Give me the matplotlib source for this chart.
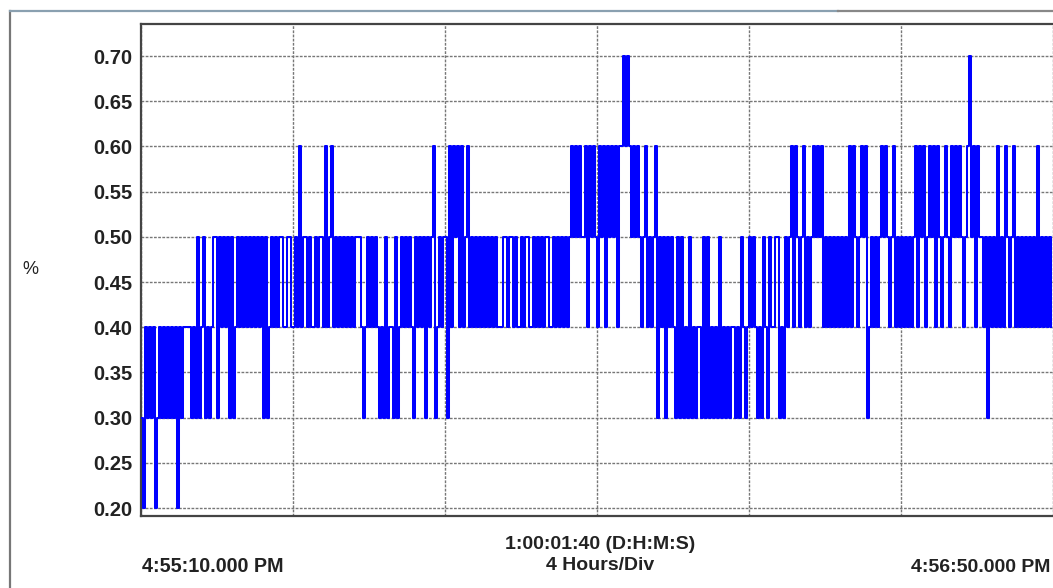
import numpy as np
import matplotlib
matplotlib.use("Agg")
import matplotlib.pyplot as plt
from matplotlib.lines import Line2D

plt.rcParams['font.family'] = ['Liberation Sans', 'DejaVu Sans']

# signal level per sample (digit = tenths of a percent), 76 samples per division
div1 = ("324343" "42" "3434343434243" "4444" "34" "353" "45" "34345" "535" "4545" "353"
        "45454545454545" "3" "5" "3" "4545" "45544554")
div2 = ("454645545445455464564545" "45454545" "55" "43" "4545454" "34353" "44" "353"
        "4545454" "3" "54545" "3" "545" "6" "3" "4545")
div3 = ("53" "64656" "46" "45" "64" "54545454545454" "445545545445455445"
        "454545544545454545" "65656556" "46565")
div4 = ("4656465656" "46" "67676" "5656545645456" "354535" "45435" "3534353434" "4353"
        "534343534343" "443435434")
div5 = ("5454" "343" "5435445" "5343" "545" "646" "5456" "4545" "6565" "64"
        "545454545454" "646545656" "3" "454545" "6565" "456454")
div6 = ("5454545" "646564" "5656465" "456546" "56565456" "7" "56465" "5453" "54546"
        "4546" "545" "6" "45454545454" "6" "4545454")
levels = div1 + div2 + div3 + div4 + div5 + div6

y_ticks = [0.20, 0.25, 0.30, 0.35, 0.40, 0.45, 0.50, 0.55, 0.60, 0.65, 0.70]
n_div = 6
start_label = "4:55:10.000 PM"
end_label = "4:56:50.000 PM"
span_label = "1:00:01:40 (D:H:M:S)\n4 Hours/Div"

values = np.array([int(c) / 10 for c in levels])
x = np.arange(len(values)) * n_div / len(values)

W, H = 1053, 588
fig = plt.figure(figsize=(W / 100, H / 100), dpi=100)
ax = fig.add_axes([141 / W, (H - 516) / H, 912 / W, 492 / H])

ax.step(x, values, where='post', color='#0000ff', lw=1.45, zorder=3)

ax.set_xlim(0, n_div)
ax.set_ylim(0.1912, 0.7354)
ax.set_yticks(y_ticks)
ax.set_yticklabels([f"{v:.2f}" for v in y_ticks], fontsize=14.5, fontweight='bold', color='#222222')
ax.set_xticks(range(n_div + 1))
ax.set_xticklabels([])
ax.tick_params(length=0, pad=6)
ax.grid(True, color='#777777', lw=1.0, linestyle=(0, (2, 1)), zorder=1)
for s in ['top', 'left', 'bottom']:
    ax.spines[s].set_color('#444444')
    ax.spines[s].set_linewidth(1.6)
ax.spines['right'].set_visible(False)

fig.text(22 / W, 1 - 270 / H, "%", fontsize=13, ha='left', va='center', color='#222222')
fig.text(142 / W, 1 - 567 / H, start_label, fontsize=14.2, fontweight='bold',
         ha='left', va='center', color='#222222')
fig.text(1050 / W, 1 - 567 / H, end_label, fontsize=14.0, fontweight='bold',
         ha='right', va='center', color='#222222')
fig.text(600 / W, 1 - 555 / H, span_label, fontsize=14, fontweight='bold',
         ha='center', va='center', color='#222222', linespacing=1.25)

# outer frame
fig.add_artist(Line2D([10 / W, 10 / W], [0, 1 - 11 / H], color='#777777', lw=1.6))
fig.add_artist(Line2D([10 / W, 838 / W], [1 - 11 / H, 1 - 11 / H], color='#8aa0b0', lw=1.6))
fig.add_artist(Line2D([838 / W, 1], [1 - 11 / H, 1 - 11 / H], color='#888888', lw=1.6))

fig.savefig("out.png", dpi=100)
